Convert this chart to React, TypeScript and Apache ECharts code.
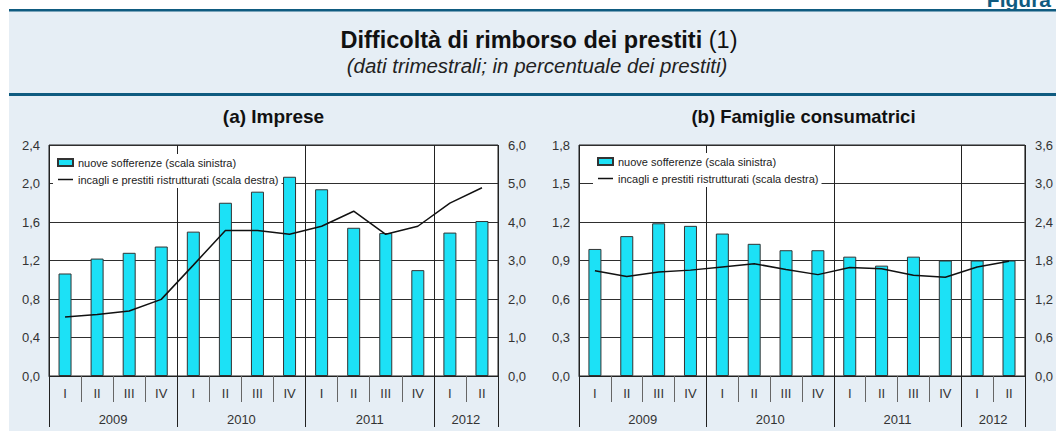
import { useEffect, useRef } from 'react';
import * as echarts from 'echarts';

const quarters = ['I', 'II', 'III', 'IV', 'I', 'II', 'III', 'IV', 'I', 'II', 'III', 'IV', 'I', 'II'];
const quarterYears = ['2009', '2009', '2009', '2009', '2010', '2010', '2010', '2010', '2011', '2011', '2011', '2011', '2012', '2012'];

const impreseSofferenze = [1.065, 1.22, 1.28, 1.345, 1.5, 1.8, 1.915, 2.07, 1.94, 1.54, 1.485, 1.1, 1.49, 1.61];
const impreseIncagli = [1.53, 1.6, 1.69, 1.99, 2.88, 3.78, 3.78, 3.68, 3.89, 4.28, 3.68, 3.89, 4.49, 4.89];
const famiglieSofferenze = [0.99, 1.09, 1.19, 1.17, 1.11, 1.03, 0.98, 0.98, 0.93, 0.86, 0.93, 0.9, 0.9, 0.9];
const famiglieIncagli = [1.64, 1.55, 1.62, 1.65, 1.7, 1.75, 1.66, 1.58, 1.69, 1.67, 1.57, 1.54, 1.7, 1.79];

const barName = 'nuove sofferenze (scala sinistra)';
const lineName = 'incagli e prestiti ristrutturati (scala destra)';

const FONT = 'Arial, "Liberation Sans", Helvetica, sans-serif';
const NAVY = '#0f5b80';
const BG = '#e6eef5';
const CYAN = '#1ce1f6';

const isYearStart = (i: number) => i === 0 || quarterYears[i] !== quarterYears[i - 1];
const isYearLabel = (i: number) => {
  let s = i;
  while (s > 0 && quarterYears[s - 1] === quarterYears[i]) s--;
  let e = i;
  while (e < quarterYears.length - 1 && quarterYears[e + 1] === quarterYears[i]) e++;
  return i === s + Math.floor((e - s) / 2);
};
const fmt = (v: number) => v.toFixed(1).replace('.', ',');

function xAxes(g: number) {
  return [
    {
      type: 'category', gridIndex: g, data: quarters, position: 'bottom', boundaryGap: true,
      axisLine: { show: true, lineStyle: { color: '#222', width: 1 } },
      axisTick: { show: true, interval: 0, length: 26, lineStyle: { color: '#666' } },
      axisLabel: { interval: 0, margin: 11, fontSize: 13, color: '#333', fontFamily: FONT },
      splitLine: { show: false },
    },
    {
      type: 'category', gridIndex: g, data: quarters.map((q, i) => quarterYears[i] + ' ' + q + ' ' + i),
      position: 'bottom', boundaryGap: true,
      axisLine: { show: false },
      axisTick: { show: true, interval: (i: number) => isYearStart(i), length: 51, lineStyle: { color: '#222' } },
      axisLabel: {
        interval: (i: number) => isYearLabel(i), margin: 37,
        formatter: (_v: string, i: number) => '{y|' + quarterYears[i] + '}',
        rich: { y: { padding: [0, 0, 0, 32], fontSize: 13, color: '#333', fontFamily: FONT } },
      },
      splitLine: { show: true, interval: (i: number) => isYearStart(i), lineStyle: { color: '#222' } },
    },
  ];
}

function yAxes(g: number, lmax: number, lint: number, rmax: number, rint: number) {
  const label = { margin: 9, fontSize: 13, color: '#333', fontFamily: FONT, formatter: fmt };
  return [
    {
      type: 'value', gridIndex: g, position: 'left', min: 0, max: lmax, interval: lint,
      axisLine: { show: false }, axisTick: { show: false }, axisLabel: label,
      splitLine: { show: true, lineStyle: { color: '#2e2e2e' } },
    },
    {
      type: 'value', gridIndex: g, position: 'right', min: 0, max: rmax, interval: rint,
      axisLine: { show: false }, axisTick: { show: false }, axisLabel: { ...label, margin: 10 },
      splitLine: { show: false },
    },
  ];
}

function series(g: number, bars: number[], line: number[]) {
  return [
    {
      type: 'bar', name: barName, xAxisIndex: 2 * g, yAxisIndex: 2 * g, data: bars, barWidth: 13,
      itemStyle: { color: CYAN, borderColor: '#333', borderWidth: 1 },
    },
    {
      type: 'line', name: lineName, xAxisIndex: 2 * g, yAxisIndex: 2 * g + 1, data: line,
      symbol: 'none', lineStyle: { color: '#111', width: 1.5 }, itemStyle: { color: '#111' },
    },
  ];
}

function legend(left: number, top: number) {
  return {
    left, top, orient: 'vertical', itemGap: 6, itemWidth: 15, itemHeight: 7,
    padding: [3, 3, 3, 4], backgroundColor: '#fff', selectedMode: false,
    textStyle: { fontSize: 11, color: '#222', fontFamily: FONT },
    data: [
      { name: barName, icon: 'rect' },
      { name: lineName, icon: 'path://M0,0H30V3H0Z', itemStyle: { color: '#111' } },
    ],
  };
}

export default function App() {
  const ref = useRef<HTMLDivElement>(null);
  useEffect(() => {
    if (!ref.current) return;
    const chart = echarts.init(ref.current, null, { renderer: 'svg' });
    chart.setOption({
      animation: false,
      backgroundColor: '#fff',
      graphic: [
        { type: 'rect', z: -100, silent: true, shape: { x: 9, y: 9, width: 1047, height: 422 }, style: { fill: BG } },
        { type: 'rect', z: -99, silent: true, shape: { x: 9, y: 9, width: 1047, height: 2.5 }, style: { fill: NAVY } },
        { type: 'rect', z: -99, silent: true, shape: { x: 9, y: 93, width: 1047, height: 3 }, style: { fill: NAVY } },
        {
          type: 'text', x: 1051, y: 9.5,
          style: { text: 'Figura', fill: NAVY, fontSize: 21, fontWeight: 'bold', fontFamily: FONT, align: 'right', verticalAlign: 'bottom' },
        },
        {
          type: 'text', x: 539, y: 40,
          style: {
            text: '{b|Difficoltà di rimborso dei prestiti}{n| (1)}', align: 'center', verticalAlign: 'middle',
            rich: {
              b: { fontSize: 23.5, fontWeight: 'bold', fontFamily: FONT, fill: '#111' },
              n: { fontSize: 23.5, fontFamily: FONT, fill: '#111' },
            },
          },
        },
        {
          type: 'text', x: 537, y: 65,
          style: { text: '(dati trimestrali; in percentuale dei prestiti)', fontSize: 20.5, fontStyle: 'italic', fontFamily: FONT, fill: '#222', align: 'center', verticalAlign: 'middle' },
        },
        {
          type: 'text', x: 273.5, y: 116,
          style: { text: '(a) Imprese', fontSize: 19, fontWeight: 'bold', fontFamily: FONT, fill: '#111', align: 'center', verticalAlign: 'middle' },
        },
        {
          type: 'text', x: 803.5, y: 116,
          style: { text: '(b) Famiglie consumatrici', fontSize: 18.5, fontWeight: 'bold', fontFamily: FONT, fill: '#111', align: 'center', verticalAlign: 'middle' },
        },
      ],
      grid: [
        { left: 49, top: 145, width: 449, height: 231, show: true, backgroundColor: '#fff', borderColor: '#222', borderWidth: 1 },
        { left: 579, top: 145, width: 449, height: 231, show: true, backgroundColor: '#fff', borderColor: '#222', borderWidth: 1 },
      ],
      legend: [legend(53, 154), legend(593, 153)],
      xAxis: [...xAxes(0), ...xAxes(1)],
      yAxis: [...yAxes(0, 2.4, 0.4, 6, 1), ...yAxes(1, 1.8, 0.3, 3.6, 0.6)],
      series: [...series(0, impreseSofferenze, impreseIncagli), ...series(1, famiglieSofferenze, famiglieIncagli)],
    });
    return () => chart.dispose();
  }, []);
  return <div ref={ref} style={{ position: 'fixed', left: 0, top: 0, width: 1056, height: 431 }} />;
}
